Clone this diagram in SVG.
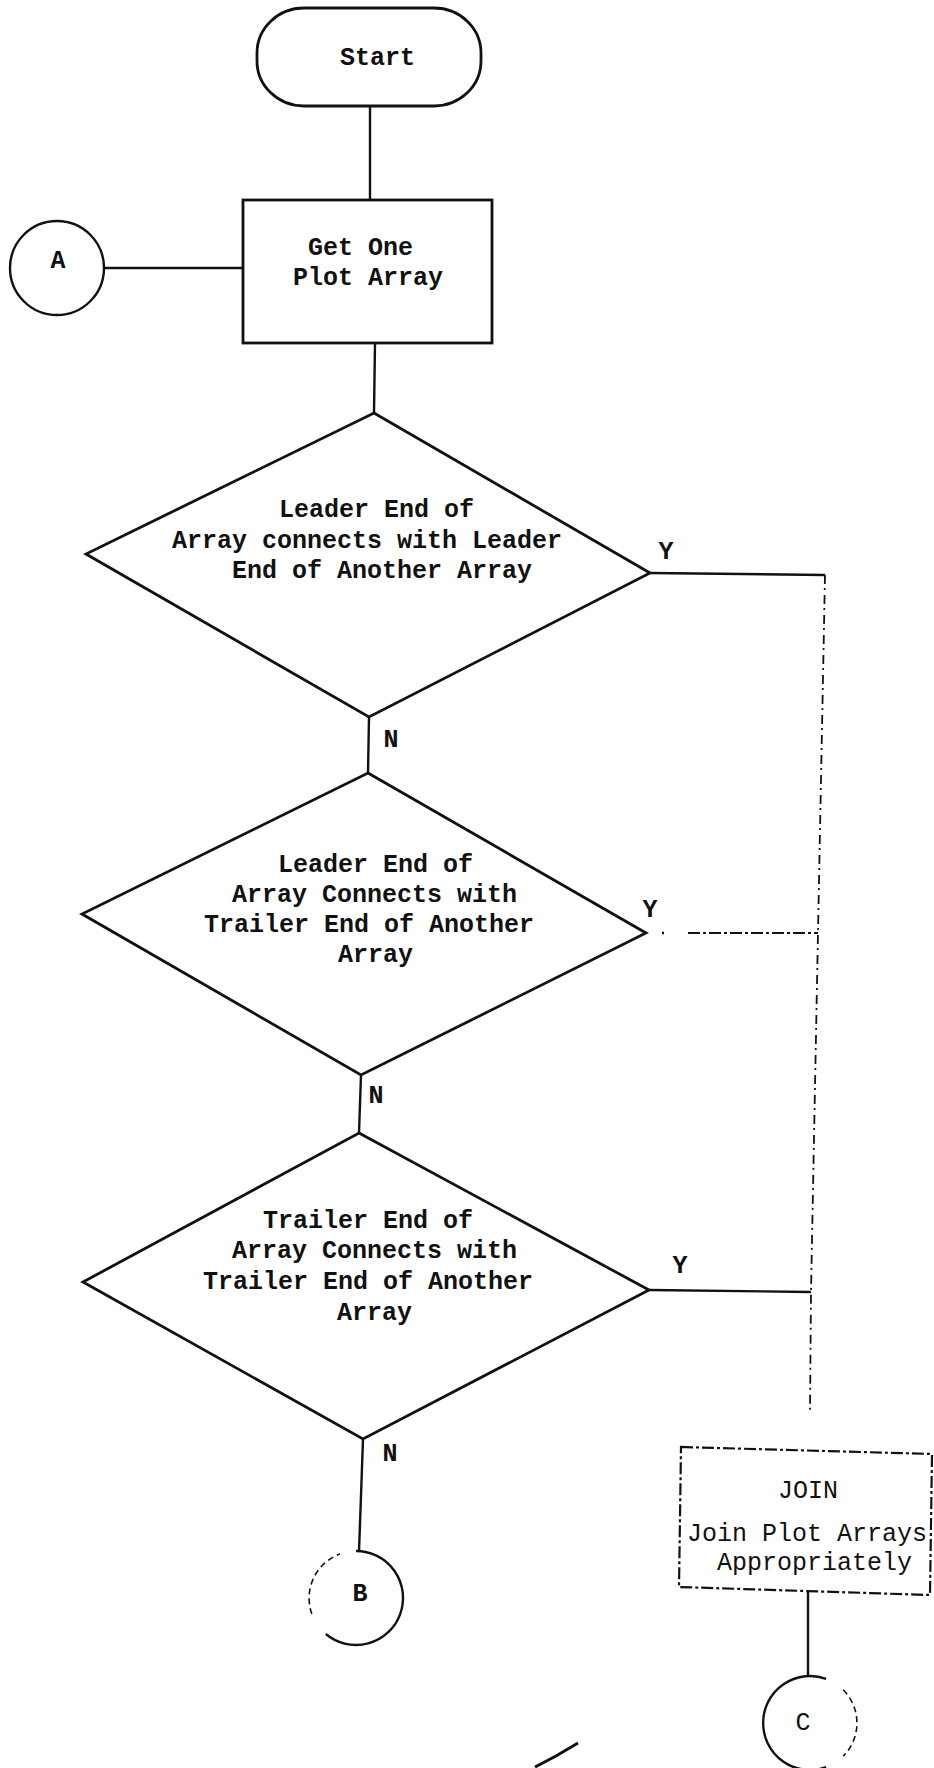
<svg xmlns="http://www.w3.org/2000/svg" width="934" height="1768" viewBox="0 0 934 1768">
<style>
.bg{fill:#ffffff}
.shape{fill:none;stroke:#111;stroke-width:2.8;stroke-linejoin:miter}
.circ{fill:none;stroke:#111;stroke-width:2.4}
.circf{fill:none;stroke:#111;stroke-width:1.6;stroke-dasharray:6 4}
.dash{fill:none;stroke:#111;stroke-width:2.2;stroke-dasharray:12 3 3 3}
.conn{fill:none;stroke:#111;stroke-width:2.4}
.faint{fill:none;stroke:#111;stroke-width:1.8;stroke-dasharray:9 4 2 5}
.t{font-family:"Liberation Mono","Courier New",monospace;font-size:25px;font-weight:bold;fill:#111}
.r{font-family:"Liberation Mono","Courier New",monospace;font-size:25px;font-weight:normal;fill:#111}
.c{text-anchor:middle}
</style>
<rect class="bg" x="0" y="0" width="934" height="1768"/>
<g id="connectors">
<line class="conn" x1="370" y1="106" x2="370" y2="200"/>
<line class="conn" x1="104" y1="268" x2="243" y2="268"/>
<line class="conn" x1="375" y1="343" x2="374" y2="413"/>
<line class="conn" x1="369" y1="717" x2="368" y2="773"/>
<line class="conn" x1="361" y1="1075" x2="359" y2="1133"/>
<line class="conn" x1="363" y1="1439" x2="359" y2="1552"/>
<line class="conn" x1="650" y1="573" x2="825" y2="575"/>
<line class="conn" x1="662" y1="933" x2="664" y2="933"/>
<line class="dash" x1="688" y1="933" x2="818" y2="933"/>
<line class="conn" x1="649" y1="1290" x2="811" y2="1292"/>
<polyline class="faint" points="825,575 818,933 811,1292 810,1413"/>
<line class="conn" x1="808" y1="1592" x2="808" y2="1676"/>
<text class="t c" x="666" y="559">Y</text>
<text class="t c" x="650" y="917">Y</text>
<text class="t c" x="680" y="1273">Y</text>
<text class="t c" x="391" y="747">N</text>
<text class="t c" x="376" y="1103">N</text>
<text class="t c" x="390" y="1461">N</text>
</g>
<g id="start">
<rect class="shape" x="257" y="8" width="224" height="98" rx="47" ry="45"/>
<text class="t" x="340" y="65">Start</text>
</g>
<g id="getPlotArray">
<rect class="shape" x="243" y="200" width="249" height="143"/>
<text class="t" x="308" y="255">Get One</text>
<text class="t" x="293" y="285">Plot Array</text>
</g>
<g id="connectorA">
<circle class="circ" cx="57" cy="268" r="47"/>
<text class="t c" x="58" y="268">A</text>
</g>
<g id="decision1">
<polygon class="shape" points="374,413 650,573 369,717 86,554"/>
<text class="t" x="279" y="517">Leader End of</text>
<text class="t" x="172" y="548">Array connects with Leader</text>
<text class="t" x="232" y="578">End of Another Array</text>
</g>
<g id="decision2">
<polygon class="shape" points="368,773 646,933 361,1075 82,914"/>
<text class="t" x="278" y="872">Leader End of</text>
<text class="t" x="232" y="902">Array Connects with</text>
<text class="t" x="204" y="932">Trailer End of Another</text>
<text class="t" x="338" y="962">Array</text>
</g>
<g id="decision3">
<polygon class="shape" points="359,1133 649,1290 363,1439 83,1282"/>
<text class="t" x="263" y="1228">Trailer End of</text>
<text class="t" x="232" y="1258">Array Connects with</text>
<text class="t" x="203" y="1289">Trailer End of Another</text>
<text class="t" x="337" y="1320">Array</text>
</g>
<g id="connectorB">
<path class="circ" d="M356,1551 A47,47 0 1 1 325.8,1634"/>
<path class="circf" d="M311.8,1614 A47,47 0 0 1 340,1554"/>
<text class="t c" x="360" y="1601">B</text>
</g>
<g id="join">
<polygon class="dash" points="681,1447 932,1454 930,1595 679,1587"/>
<text class="r" x="778" y="1498">JOIN</text>
<text class="r" x="687" y="1541">Join Plot Arrays</text>
<text class="r" x="717" y="1570">Appropriately</text>
</g>
<g id="connectorC">
<path class="circ" d="M826.1,1678.8 A47,47 0 1 0 826.1,1767.2"/>
<path class="circf" d="M843.2,1689.8 A47,47 0 0 1 843.2,1756.2"/>
<text class="r c" x="803" y="1730">C</text>
</g>
<g id="mark">
<path d="M535,1767 L556,1756 L578,1743" fill="none" stroke="#111" stroke-width="3"/>
</g>
</svg>
